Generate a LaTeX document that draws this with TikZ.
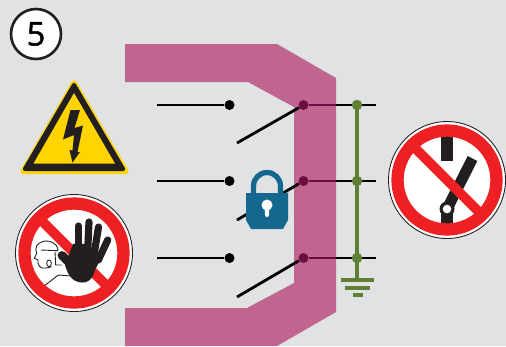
\documentclass[tikz,border=0pt]{standalone}
\usepackage{fontspec}
\setmainfont{Open Sans}
\newfontfamily\badgefont[FakeBold=1.5]{Open Sans}
\usetikzlibrary{positioning,calc}
\definecolor{bgGrey}{HTML}{E0E2E4}
\definecolor{hoodPink}{HTML}{C0658F}
\definecolor{wireMaroon}{HTML}{6B0F43}
\definecolor{earthGreen}{HTML}{5F7F35}
\definecolor{lockBlue}{HTML}{14688F}
\definecolor{signRed}{HTML}{EE2024}
\definecolor{signYellow}{HTML}{FFD400}
\definecolor{signBlack}{HTML}{231F20}
\tikzset{
  wire/.style={line width=1.6pt,black},
  wirehot/.style={line width=1.6pt,wireMaroon},
  earth/.style={line width=1.8pt,earthGreen},
  blackdot/.style={circle,fill=black,inner sep=0pt,minimum size=0.2cm},
  hotdot/.style={circle,fill=wireMaroon,inner sep=0pt,minimum size=0.2cm},
  greendot/.style={circle,fill=earthGreen,inner sep=0pt,minimum size=0.21cm},
  signdisc/.style={circle,draw=signBlack,line width=0.5pt,fill=white,inner sep=0pt,minimum size=2.34cm},
  signring/.style={circle,draw=signRed,line width=7pt,inner sep=0pt,minimum size=1.98cm},
  signbar/.style={draw=signRed,line width=5.6pt},
  finger/.style={draw=signBlack,line width=4.1pt,line cap=round}
}
\begin{document}
\begin{tikzpicture}[x=0.02cm,y=-0.02cm,
  badge/.style={circle,draw=signBlack,line width=1.5pt,fill=white,inner sep=0pt,
    minimum size=1.0cm,font=\badgefont\fontsize{18.5}{18.5}\selectfont}
]
  \fill[bgGrey] (0,0) rectangle (506,346);
  % hood
  \fill[hoodPink] (125,44) -- (277,44) -- (336,78) -- (336,312) -- (277,346) -- (125,346)
    -- (125,308) -- (247,308) -- (294,283) -- (294,107) -- (248,82) -- (125,82) -- cycle;
  \node[badge] (number) at (36,34) {5};
  % terminals
  \coordinate (inA) at (157,105);
  \coordinate (inB) at (157,181);
  \coordinate (inC) at (157,258);
  \coordinate (outA) at (376,105);
  \coordinate (outB) at (376,181);
  \coordinate (outC) at (376,258);
  \coordinate (bladeA) at (237,143);
  \coordinate (bladeB) at (237,220);
  \coordinate (bladeC) at (237,297);
  \coordinate (hoodA) at (336,105);
  \coordinate (hoodB) at (336,181);
  \coordinate (hoodC) at (336,258);
  \draw[wire] (hoodA) -- (outA);
  \draw[wire] (hoodB) -- (outB);
  \draw[wire] (hoodC) -- (outC);
  \node[blackdot] (lineA) at (229.5,105) {};
  \node[blackdot] (lineB) at (229.5,181) {};
  \node[blackdot] (lineC) at (229.5,258) {};
  \node[hotdot] (loadA) at (303.5,105) {};
  \node[hotdot] (loadB) at (303.5,181) {};
  \node[hotdot] (loadC) at (303.5,258) {};
  \node[greendot] (shortA) at (357,105) {};
  \node[greendot] (shortB) at (357,181) {};
  \node[greendot] (shortC) at (357,258) {};
  \draw[wire] (inA) -- (lineA);
  \draw[wire] (inB) -- (lineB);
  \draw[wire] (inC) -- (lineC);
  \draw[wire] (bladeA) -- (loadA);
  \draw[wire] (bladeB) -- (loadB);
  \draw[wire] (bladeC) -- (loadC);
  \draw[wirehot] (loadA) -- (hoodA);
  \draw[wirehot] (loadB) -- (hoodB);
  \draw[wirehot] (loadC) -- (hoodC);
  % earth
  \coordinate (groundTop) at (357,280);
  \draw[earth] (shortA.center) -- (shortB.center);
  \draw[earth] (shortB.center) -- (shortC.center);
  \draw[earth] (shortC.center) -- (groundTop);
  \draw[earth] (341,280) -- (374,280);
  \draw[earth] (345,288) -- (370,288);
  \draw[earth] (353,295) -- (363,295);
  % lock
  \draw[lockBlue,line width=3pt] (253.5,195) -- (253.5,186) arc[start angle=180,end angle=360,radius=13.5] -- (280.5,195);
  \fill[lockBlue] (246,193) -- (288,193) -- (288,220) -- (283,229) -- (251,229) -- (246,220) -- cycle;
  \fill[white] (267,205) circle (5.5);
  \fill[white] (264.5,205) -- (269.5,205) -- (269,215) arc[start angle=0,end angle=180,radius=2] -- cycle;
  % warning triangle
  \draw[signYellow,fill=signYellow,line width=3pt,line join=round] (74,83) -- (23,171.5) -- (126,171.5) -- cycle;
  \draw[signBlack,fill=signBlack,line width=2.4pt,line join=round] (74,85) -- (25,169) -- (123,169) -- cycle;
  \fill[signYellow] (74,93) -- (33.5,163.5) -- (115,163.5) -- cycle;
  \fill[signBlack] (70.5,110) -- (80,110) -- (74.5,128) -- (83,125.5) -- (77.5,152) -- (80,152)
    -- (72.5,162.5) -- (69.5,150) -- (72.5,150.5) -- (74,135) -- (63,139.5) -- cycle;
  % no entry sign
  \node[signdisc] (stopDisc) at (74,253) {};
  \draw[signBlack,line width=0.5pt,line join=round]
    (36.7,253.3) .. controls (34.5,248) and (36,243) .. (45,241) .. controls (51,240.5) and (57,243.5) .. (58.3,250)
    (41,250) -- (58,250.7)
    (36.7,253.3) -- (34.3,258.3) -- (38,260) -- (38,263) .. controls (39,269) and (44,269) .. (51.7,266.7)
    (55,252) -- (55.7,265) -- (61.7,265)
    (43.3,286.7) -- (58.3,275) -- (71.7,276);
  \draw[signBlack,line width=0.5pt] (49,263.3) ellipse (2.3 and 3.3);
  \draw[signbar] ($(stopDisc)+(-32,-32)$) -- ($(stopDisc)+(32,32)$);
  \node[signring] (stopRing) at (stopDisc) {};
  \fill[signBlack] (73,244) .. controls (80,242) and (95,244) .. (101,258) -- (95,270)
    .. controls (92,282) and (85,283) .. (82,282.5) .. controls (72,282) and (68,275) .. (65,265) -- cycle;
  \draw[finger] (78.5,226) -- (78.5,253);
  \draw[finger] (89,222) -- (87.7,250);
  \draw[finger] (98.5,227) -- (94.3,253);
  \draw[finger] (107.7,240) -- (98.3,260);
  \draw[finger,line width=5pt] (62,255.5) -- (75,268);
  % no switching sign
  \node[signdisc] (switchDisc) at (447,180) {};
  \fill[signBlack] (441.3,136) rectangle (452.7,161);
  \draw[signBlack,line width=6.2pt] (447,209) -- (472.5,158.5);
  \draw[signBlack,line width=6.4pt] (447,209) -- (447,224);
  \fill[signBlack] (447,209) circle (7.5);
  \fill[white] (447,209) circle (4.3);
  \draw[signbar] ($(switchDisc)+(-32,-32)$) -- ($(switchDisc)+(32,32)$);
  \node[signring] (switchRing) at (switchDisc) {};
\end{tikzpicture}
\end{document}
